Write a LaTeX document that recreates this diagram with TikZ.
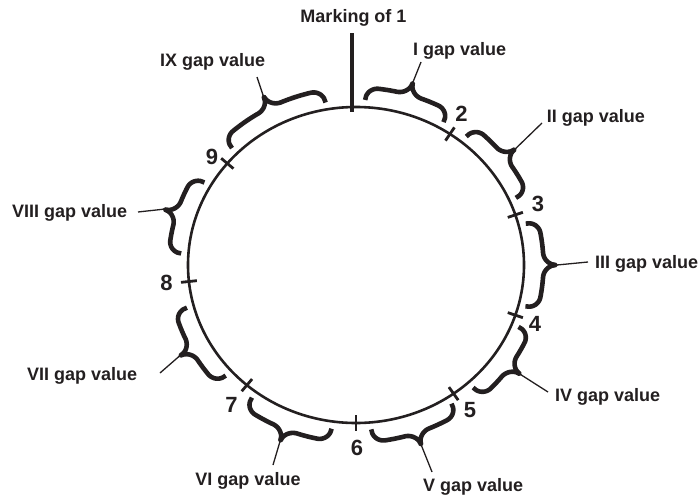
\documentclass[tikz,border=0pt]{standalone}
\usepackage{fontspec}
\setmainfont{Liberation Sans}
\definecolor{ink}{RGB}{35,31,32}
\newcommand{\gapbrace}[3]{%
  \draw[gbrace] plot[domain=#2:#3, samples=121, variable=\x]
    ({356+(168+bo(\x,#2,#3))*cos(\x)}, {265-(158+bo(\x,#2,#3))*sin(\x)});
  \coordinate (#1) at ({356+201*cos((#2+#3)/2)}, {265-191*sin((#2+#3)/2)});
}
\begin{document}
\begin{tikzpicture}[x=1pt,y=-1pt,
  declare function={
    bd(\p,\q,\r)=min(\p-\q,\r-\p);
    bg(\d,\h)=(\d<4) ? (0.5*sqrt(max(0,1-(1-\d/4)*(1-\d/4)))) : ((\d<\h-4) ? 0.5 : (1-0.5*sqrt(max(0,1-((\d-\h+4)/4)*((\d-\h+4)/4)))));
    bo(\p,\q,\r)=7+25*bg(bd(\p,\q,\r),(\r-\q)/2);
  },
  every path/.style={draw=ink},
  ring/.style={line width=2.6pt},
  tickmark/.style={line width=2.8pt},
  marking/.style={line width=3.2pt},
  gbrace/.style={line width=4.6pt, line join=round},
  leader/.style={line width=1.3pt},
  lbl/.style={font=\fontsize{18}{20}\selectfont\bfseries, text=ink, inner sep=0pt, anchor=base west},
  num/.style={font=\fontsize{22}{24}\selectfont\bfseries, text=ink, inner sep=0pt, anchor=center}]
\useasboundingbox[draw=none] (0,0) rectangle (699,498);

% ring
\coordinate (c) at (356,265);
\draw[ring] (c) ellipse [x radius=168pt, y radius=158pt];

% marking of 1
\coordinate (mtop) at (352,33);
\coordinate (mbot) at (352,112);
\draw[marking] (mtop) -- (mbot);

% tick marks
\foreach \k/\t in {2/56,3/18.5,4/-18.5,5/-54.5,6/-90,7/229.5,8/186,9/140} {
  \coordinate (k\k i) at ({356+160*cos(\t)},{265-150*sin(\t)});
  \coordinate (k\k o) at ({356+176*cos(\t)},{265-166*sin(\t)});
  \draw[tickmark] (k\k i) -- (k\k o);
}

% braces
\gapbrace{tI}{60}{87}
\gapbrace{tII}{24}{51}
\gapbrace{tIII}{-14.5}{14.5}
\gapbrace{tIV}{-48}{-22}
\gapbrace{tV}{-85}{-57}
\gapbrace{tVI}{233.5}{262}
\gapbrace{tVII}{195}{222}
\gapbrace{tVIII}{150}{176}
\gapbrace{tIX}{100}{135}

% labels
\node[lbl, anchor=base] (lM) at (353.5,22.7) {Marking of 1};
\node[lbl] (lI) at (413,55) {I gap value};
\node[lbl] (lII) at (546.7,122.3) {II gap value};
\node[lbl] (lIII) at (595,268) {III gap value};
\node[lbl] (lIV) at (555,401.7) {IV gap value};
\node[lbl] (lV) at (423,491.7) {V gap value};
\node[lbl, anchor=base] (lVI) at (248,485) {VI gap value};
\node[lbl] (lVII) at (27,380.5) {VII gap value};
\node[lbl] (lVIII) at (12,217.3) {VIII gap value};
\node[lbl] (lIX) at (160,66.7) {IX gap value};

% leader ends
\coordinate (eI) at (421,62);
\coordinate (eII) at (542,123);
\coordinate (eIII) at (588,262);
\coordinate (eIV) at (548,392);
\coordinate (eV) at (432,472);
\coordinate (eVI) at (273,465);
\coordinate (eVII) at (160,373);
\coordinate (eVIII) at (138,212);
\coordinate (eIX) at (257,77);
\foreach \g in {I,II,III,IV,V,VI,VII,VIII,IX} {
  \draw[leader] (t\g) -- (e\g);
}

% numbers
\node[num] (n2) at (461.5,114) {2};
\node[num] (n3) at (538,203.5) {3};
\node[num] (n4) at (535,323.5) {4};
\node[num] (n5) at (470,410.5) {5};
\node[num] (n6) at (357,447.5) {6};
\node[num] (n7) at (231.5,405) {7};
\node[num] (n8) at (166.5,283) {8};
\node[num] (n9) at (212,156.5) {9};
\end{tikzpicture}
\end{document}
